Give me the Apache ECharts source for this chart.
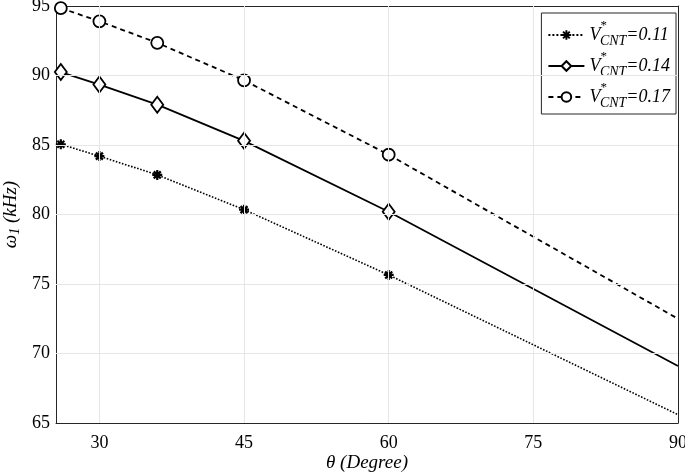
<!DOCTYPE html>
<html>
<head>
<meta charset="utf-8">
<script src="https://cdn.jsdelivr.net/npm/echarts@6/dist/echarts.min.js"></script>
<style>
  html, body { margin: 0; padding: 0; background: #fff; }
  #main { width: 685px; height: 474px; }
</style>
</head>
<body>
<div id="main"></div>
<script>
const theta = [26, 30, 36, 45, 60, 90];
const omega011 = [85.05, 84.2, 82.85, 80.35, 75.65, 65.6];
const omega014 = [90.25, 89.35, 87.9, 85.3, 80.2, 69.1];
const omega017 = [94.85, 93.9, 92.35, 89.65, 84.3, 72.5];
const xTicks = [30, 45, 60, 75, 90];
const legendNames = ['0.11', '0.14', '0.17'];

const chartDom = document.getElementById('main');
const myChart = echarts.init(chartDom);

const font = 'Liberation Serif';
const axisColor = '#262626';
const gridColor = '#e6e6e6';

// asterisk marker
const starPath = 'path://M0 5 L10 5 M5 0 L5 10 M1.5 1.5 L8.5 8.5 M8.5 1.5 L1.5 8.5';

function toData(values) {
  return values.map((v, i) => {
    const item = { value: [theta[i], v] };
    if (i === values.length - 1) item.symbol = 'none';
    return item;
  });
}

function makeSeries(name, values, lineType, symbol, symbolSize, fill, bw) {
  return {
    name: name,
    type: 'line',
    data: toData(values),
    symbol: symbol,
    symbolSize: symbolSize,
    showAllSymbol: true,
    lineStyle: { color: '#000', width: lineType === 'dotted' ? 1.6 : 1.8, type: lineType },
    itemStyle: { color: fill, borderColor: '#000', borderWidth: bw },
    emphasis: { disabled: true },
    z: 3
  };
}

const xBase = {
  type: 'value',
  min: 25.5,
  max: 90,
  interval: 15,
  axisLine: { show: true, lineStyle: { color: axisColor, width: 1 } },
  axisTick: { show: true, inside: true, length: 5, customValues: xTicks, lineStyle: { color: axisColor } },
  splitLine: { show: false }
};

const yBase = {
  type: 'value',
  min: 65,
  max: 95,
  interval: 5,
  axisLine: { show: true, lineStyle: { color: axisColor, width: 1 } },
  axisTick: { show: true, inside: true, length: 5, lineStyle: { color: axisColor } },
  splitLine: { show: false }
};

const option = {
  animation: false,
  backgroundColor: '#fff',
  grid: { left: 56, right: 7, top: 6, bottom: 51, outerBoundsMode: 'none', containLabel: false },
  xAxis: [
    Object.assign({}, xBase, {
      position: 'bottom',
      name: 'θ (Degree)',
      nameLocation: 'middle',
      nameGap: 30,
      nameMoveOverlap: false,
      nameTextStyle: { fontFamily: font, fontSize: 19, fontStyle: 'italic', color: '#000' },
      axisLabel: { customValues: xTicks, fontFamily: font, fontSize: 18, color: '#000', margin: 11 }
    }),
    Object.assign({}, xBase, { position: 'top', axisLabel: { show: false } })
  ],
  yAxis: [
    Object.assign({}, yBase, {
      position: 'left',
      name: '{a|ω}{s|1}{a| (kHz)}',
      nameLocation: 'middle',
      nameGap: 34,
      nameMoveOverlap: false,
      nameTextStyle: {
        color: '#000',
        rich: {
          a: { fontFamily: font, fontSize: 19, fontStyle: 'italic', color: '#000' },
          s: { fontFamily: font, fontSize: 14, fontStyle: 'italic', color: '#000', verticalAlign: 'bottom', padding: [9, 0, 0, 0] }
        }
      },
      axisLabel: { fontFamily: font, fontSize: 18, color: '#000', margin: 6 }
    }),
    Object.assign({}, yBase, { position: 'right', axisLabel: { show: false } })
  ],
  legend: {
    orient: 'vertical',
    right: 9,
    top: 13,
    backgroundColor: '#fff',
    borderColor: axisColor,
    borderWidth: 1,
    padding: [6, 6, 4, 6],
    itemGap: 2,
    itemWidth: 36,
    itemHeight: 12,
    data: legendNames.map(n => 'V' + n),
    formatter: function (name) {
      return '{v|V}{sup|*}{sub|CNT}{n|=' + name.slice(1) + '}';
    },
    textStyle: {
      rich: {
        v: { fontFamily: font, fontSize: 18, fontStyle: 'italic', color: '#000', height: 32 },
        sup: { fontFamily: font, fontSize: 13, color: '#000', verticalAlign: 'top', padding: [0, 0, 14, 0] },
        sub: { fontFamily: font, fontSize: 14, fontStyle: 'italic', color: '#000', padding: [12, 0, 0, -7] },
        n: { fontFamily: font, fontSize: 18, fontStyle: 'italic', color: '#000' }
      }
    }
  },
  series: [
    makeSeries('V' + legendNames[0], omega011, 'dotted', starPath, 10, '#000', 2.2),
    makeSeries('V' + legendNames[1], omega014, 'solid', 'diamond', [12, 16], '#fff', 1.8),
    makeSeries('V' + legendNames[2], omega017, [5, 4], 'circle', 12, '#fff', 1.8),
    {
      type: 'line',
      data: [],
      silent: true,
      z: 1,
      markLine: {
        silent: true,
        symbol: 'none',
        label: { show: false },
        lineStyle: { color: gridColor, width: 1, type: 'solid' },
        data: xTicks.slice(0, -1).map(x => ({ xAxis: x }))
          .concat([70, 75, 80, 85, 90].map(y => ({ yAxis: y })))
      }
    }
  ]
};

myChart.setOption(option);
</script>
</body>
</html>
